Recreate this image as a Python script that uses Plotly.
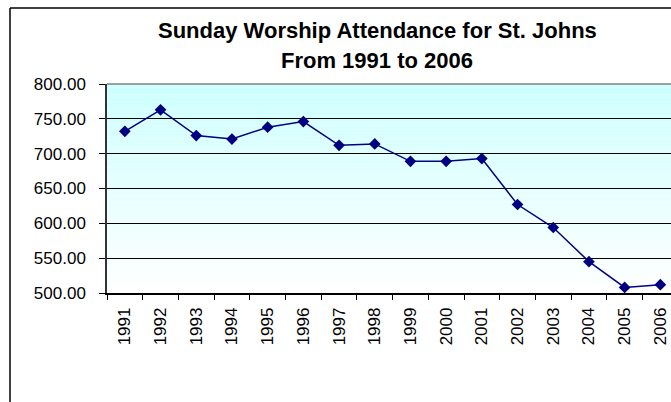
import plotly.graph_objects as go

years = ["1991", "1992", "1993", "1994", "1995", "1996", "1997", "1998",
         "1999", "2000", "2001", "2002", "2003", "2004", "2005", "2006"]
attendance = [732, 763, 726, 721, 738, 746, 712, 714,
              689, 689, 693, 627, 594, 545, 508, 512]
y_ticks = [500, 550, 600, 650, 700, 750, 800]
title_lines = ["Sunday Worship Attendance for St. Johns", "From 1991 to 2006"]

W, H = 671, 402
ML, MT, MB = 107, 84, 109
PW = W - ML
PH = H - MT - MB

fig = go.Figure()
fig.add_trace(go.Scatter(
    x=years, y=attendance, mode="lines+markers",
    line=dict(color="#000080", width=1.5),
    marker=dict(symbol="diamond", size=9, color="#000080"),
    showlegend=False, cliponaxis=False,
))

shapes = []
N = 60
top = (204, 255, 255)
for i in range(N):
    f = (i + 0.5) / N
    c = tuple(round(255 + (t - 255) * f) for t in top)
    shapes.append(dict(type="rect", xref="x domain", yref="y domain",
                       x0=0, x1=1, y0=i / N, y1=(i + 1) / N,
                       fillcolor="rgb(%d,%d,%d)" % c, line=dict(width=0),
                       layer="below"))
# top border of plot area
shapes.append(dict(type="line", xref="x domain", yref="y domain",
                   x0=0, x1=1, y0=1, y1=1, line=dict(color="#808080", width=1.5),
                   layer="above"))
# outer chart frame (left and top)
fx = (10 - ML) / PW
fy = 1 + (MT - 8) / PH
shapes.append(dict(type="line", xref="paper", yref="paper",
                   x0=fx, x1=fx, y0=-2, y1=fy, line=dict(color="#000000", width=1.5)))
shapes.append(dict(type="line", xref="paper", yref="paper",
                   x0=fx, x1=2, y0=fy, y1=fy, line=dict(color="#000000", width=1.5)))

tx = (377 - ML) / PW
annotations = []
for k, (txt, base) in enumerate(zip(title_lines, [36.7, 66.7])):
    ymid = base - 6.5
    annotations.append(dict(text="<b>%s</b>" % txt, xref="paper", yref="paper",
                            x=tx, y=1 + (MT - ymid) / PH, xanchor="center",
                            yanchor="middle", showarrow=False,
                            font=dict(family="Arial, Liberation Sans", size=22, color="#000000")))

fig.update_layout(
    width=W, height=H,
    margin=dict(l=ML, r=0, t=MT, b=MB, pad=0),
    paper_bgcolor="#ffffff", plot_bgcolor="rgba(0,0,0,0)",
    font=dict(family="Arial, Liberation Sans", size=17, color="#000000"),
    shapes=shapes, annotations=annotations,
    xaxis=dict(type="category", range=[-0.5, -0.5 + PW / 35.7], tickson="boundaries",
               ticks="outside", ticklen=5, tickcolor="#000000", tickwidth=1,
               showline=True, linecolor="#000000", linewidth=1.5,
               showgrid=False, tickangle=-90, ticklabelstandoff=6,
               tickfont=dict(size=17)),
    yaxis=dict(range=[500, 800], tickvals=y_ticks, tickformat=".2f",
               ticks="outside", ticklen=6, tickcolor="#000000",
               showline=True, linecolor="#333333", linewidth=1.5,
               showgrid=True, gridcolor="#000000", gridwidth=1,
               zeroline=False, ticklabelstandoff=10,
               tickfont=dict(size=17)),
)

fig.write_html(
    "out.html",
    config={"displayModeBar": False},
    post_script="document.body.style.margin='0';document.body.style.overflow='hidden';",
)
